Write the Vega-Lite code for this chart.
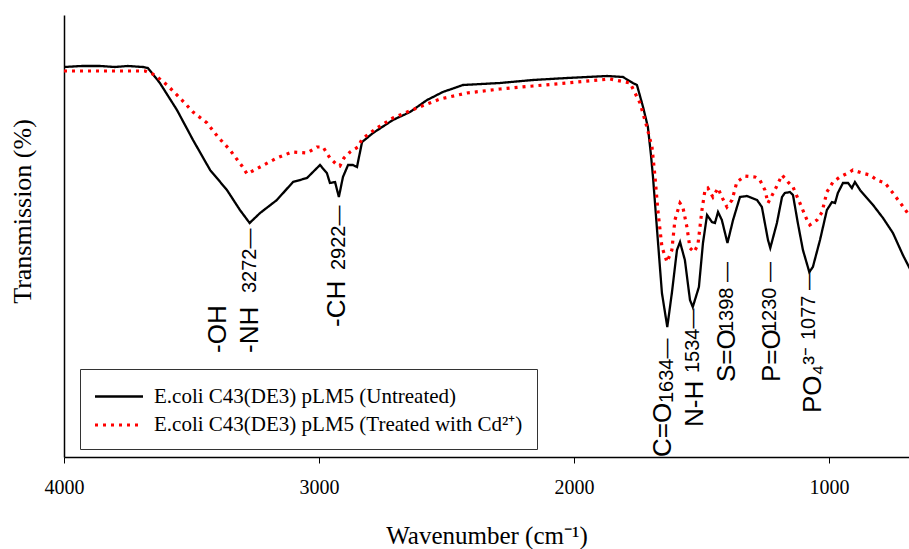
{
  "$schema": "https://vega.github.io/schema/vega-lite/v6.json",
  "width": 845,
  "height": 442,
  "autosize": {"type": "none"},
  "padding": {"left": 64, "top": 15, "right": 0, "bottom": 92},
  "background": "white",
  "config": {
    "view": {"stroke": null},
    "axis": {"grid": false, "domainColor": "black", "domainWidth": 1.5, "tickColor": "black", "labelColor": "black", "titleColor": "black", "titleFontWeight": "normal", "labelFont": "Liberation Serif", "titleFont": "Liberation Serif"}
  },
  "datasets": {
    "spectra": [
      {"s": "Untreated", "w": 4000, "v": 390}, {"s": "Untreated", "w": 3930, "v": 391}, {"s": "Untreated", "w": 3859, "v": 391}, {"s": "Untreated", "w": 3800, "v": 390}, {"s": "Untreated", "w": 3750, "v": 391}, {"s": "Untreated", "w": 3690, "v": 390}, {"s": "Untreated", "w": 3671, "v": 389}, {"s": "Untreated", "w": 3624, "v": 374}, {"s": "Untreated", "w": 3557, "v": 347}, {"s": "Untreated", "w": 3494, "v": 317}, {"s": "Untreated", "w": 3427, "v": 287}, {"s": "Untreated", "w": 3361, "v": 267}, {"s": "Untreated", "w": 3310, "v": 247}, {"s": "Untreated", "w": 3272, "v": 234}, {"s": "Untreated", "w": 3231, "v": 244}, {"s": "Untreated", "w": 3165, "v": 257}, {"s": "Untreated", "w": 3102, "v": 275}, {"s": "Untreated", "w": 3047, "v": 279}, {"s": "Untreated", "w": 2996, "v": 292}, {"s": "Untreated", "w": 2969, "v": 284}, {"s": "Untreated", "w": 2957, "v": 274}, {"s": "Untreated", "w": 2937, "v": 275}, {"s": "Untreated", "w": 2922, "v": 260}, {"s": "Untreated", "w": 2906, "v": 280}, {"s": "Untreated", "w": 2886, "v": 292}, {"s": "Untreated", "w": 2867, "v": 292}, {"s": "Untreated", "w": 2851, "v": 290}, {"s": "Untreated", "w": 2831, "v": 315}, {"s": "Untreated", "w": 2788, "v": 324}, {"s": "Untreated", "w": 2710, "v": 337}, {"s": "Untreated", "w": 2643, "v": 345}, {"s": "Untreated", "w": 2576, "v": 357}, {"s": "Untreated", "w": 2514, "v": 365}, {"s": "Untreated", "w": 2435, "v": 372}, {"s": "Untreated", "w": 2290, "v": 374}, {"s": "Untreated", "w": 2161, "v": 377}, {"s": "Untreated", "w": 2027, "v": 379}, {"s": "Untreated", "w": 1871, "v": 381}, {"s": "Untreated", "w": 1808, "v": 380}, {"s": "Untreated", "w": 1769, "v": 374}, {"s": "Untreated", "w": 1753, "v": 372}, {"s": "Untreated", "w": 1729, "v": 350}, {"s": "Untreated", "w": 1710, "v": 330}, {"s": "Untreated", "w": 1698, "v": 302}, {"s": "Untreated", "w": 1690, "v": 280}, {"s": "Untreated", "w": 1675, "v": 230}, {"s": "Untreated", "w": 1655, "v": 164}, {"s": "Untreated", "w": 1634, "v": 130}, {"s": "Untreated", "w": 1616, "v": 164}, {"s": "Untreated", "w": 1596, "v": 207}, {"s": "Untreated", "w": 1584, "v": 215}, {"s": "Untreated", "w": 1565, "v": 197}, {"s": "Untreated", "w": 1545, "v": 157}, {"s": "Untreated", "w": 1534, "v": 150}, {"s": "Untreated", "w": 1510, "v": 170}, {"s": "Untreated", "w": 1494, "v": 214}, {"s": "Untreated", "w": 1478, "v": 242}, {"s": "Untreated", "w": 1459, "v": 235}, {"s": "Untreated", "w": 1447, "v": 234}, {"s": "Untreated", "w": 1435, "v": 245}, {"s": "Untreated", "w": 1420, "v": 237}, {"s": "Untreated", "w": 1398, "v": 214}, {"s": "Untreated", "w": 1376, "v": 237}, {"s": "Untreated", "w": 1349, "v": 260}, {"s": "Untreated", "w": 1322, "v": 261}, {"s": "Untreated", "w": 1282, "v": 257}, {"s": "Untreated", "w": 1263, "v": 250}, {"s": "Untreated", "w": 1239, "v": 217}, {"s": "Untreated", "w": 1230, "v": 209}, {"s": "Untreated", "w": 1204, "v": 234}, {"s": "Untreated", "w": 1184, "v": 260}, {"s": "Untreated", "w": 1173, "v": 264}, {"s": "Untreated", "w": 1153, "v": 265}, {"s": "Untreated", "w": 1141, "v": 262}, {"s": "Untreated", "w": 1122, "v": 234}, {"s": "Untreated", "w": 1102, "v": 207}, {"s": "Untreated", "w": 1077, "v": 185}, {"s": "Untreated", "w": 1063, "v": 190}, {"s": "Untreated", "w": 1035, "v": 217}, {"s": "Untreated", "w": 1008, "v": 247}, {"s": "Untreated", "w": 988, "v": 255}, {"s": "Untreated", "w": 976, "v": 254}, {"s": "Untreated", "w": 965, "v": 264}, {"s": "Untreated", "w": 945, "v": 274}, {"s": "Untreated", "w": 925, "v": 274}, {"s": "Untreated", "w": 910, "v": 269}, {"s": "Untreated", "w": 898, "v": 275}, {"s": "Untreated", "w": 878, "v": 267}, {"s": "Untreated", "w": 851, "v": 259}, {"s": "Untreated", "w": 827, "v": 252}, {"s": "Untreated", "w": 788, "v": 239}, {"s": "Untreated", "w": 749, "v": 224}, {"s": "Untreated", "w": 710, "v": 202}, {"s": "Untreated", "w": 686, "v": 190}, {"s": "Untreated", "w": 670, "v": 182},
      {"s": "Treated", "w": 4000, "v": 386}, {"s": "Treated", "w": 3850, "v": 386}, {"s": "Treated", "w": 3682, "v": 386}, {"s": "Treated", "w": 3643, "v": 382}, {"s": "Treated", "w": 3596, "v": 372}, {"s": "Treated", "w": 3545, "v": 359}, {"s": "Treated", "w": 3494, "v": 345}, {"s": "Treated", "w": 3439, "v": 334}, {"s": "Treated", "w": 3396, "v": 320}, {"s": "Treated", "w": 3349, "v": 307}, {"s": "Treated", "w": 3302, "v": 291}, {"s": "Treated", "w": 3282, "v": 283}, {"s": "Treated", "w": 3231, "v": 290}, {"s": "Treated", "w": 3165, "v": 299}, {"s": "Treated", "w": 3106, "v": 305}, {"s": "Treated", "w": 3047, "v": 304}, {"s": "Treated", "w": 3008, "v": 310}, {"s": "Treated", "w": 2984, "v": 310}, {"s": "Treated", "w": 2957, "v": 299}, {"s": "Treated", "w": 2929, "v": 292}, {"s": "Treated", "w": 2918, "v": 291}, {"s": "Treated", "w": 2902, "v": 299}, {"s": "Treated", "w": 2878, "v": 305}, {"s": "Treated", "w": 2847, "v": 310}, {"s": "Treated", "w": 2831, "v": 318}, {"s": "Treated", "w": 2773, "v": 329}, {"s": "Treated", "w": 2710, "v": 339}, {"s": "Treated", "w": 2616, "v": 349}, {"s": "Treated", "w": 2525, "v": 358}, {"s": "Treated", "w": 2420, "v": 364}, {"s": "Treated", "w": 2290, "v": 368}, {"s": "Treated", "w": 2161, "v": 371}, {"s": "Treated", "w": 2027, "v": 374}, {"s": "Treated", "w": 1859, "v": 378}, {"s": "Treated", "w": 1780, "v": 374}, {"s": "Treated", "w": 1741, "v": 354}, {"s": "Treated", "w": 1714, "v": 330}, {"s": "Treated", "w": 1694, "v": 310}, {"s": "Treated", "w": 1682, "v": 280}, {"s": "Treated", "w": 1671, "v": 247}, {"s": "Treated", "w": 1655, "v": 210}, {"s": "Treated", "w": 1635, "v": 195}, {"s": "Treated", "w": 1616, "v": 207}, {"s": "Treated", "w": 1604, "v": 237}, {"s": "Treated", "w": 1584, "v": 254}, {"s": "Treated", "w": 1573, "v": 250}, {"s": "Treated", "w": 1557, "v": 230}, {"s": "Treated", "w": 1545, "v": 209}, {"s": "Treated", "w": 1529, "v": 205}, {"s": "Treated", "w": 1514, "v": 212}, {"s": "Treated", "w": 1498, "v": 247}, {"s": "Treated", "w": 1486, "v": 267}, {"s": "Treated", "w": 1475, "v": 269}, {"s": "Treated", "w": 1455, "v": 260}, {"s": "Treated", "w": 1435, "v": 269}, {"s": "Treated", "w": 1420, "v": 260}, {"s": "Treated", "w": 1400, "v": 250}, {"s": "Treated", "w": 1380, "v": 257}, {"s": "Treated", "w": 1361, "v": 275}, {"s": "Treated", "w": 1329, "v": 281}, {"s": "Treated", "w": 1290, "v": 280}, {"s": "Treated", "w": 1271, "v": 277}, {"s": "Treated", "w": 1251, "v": 267}, {"s": "Treated", "w": 1239, "v": 254}, {"s": "Treated", "w": 1212, "v": 267}, {"s": "Treated", "w": 1184, "v": 282}, {"s": "Treated", "w": 1161, "v": 275}, {"s": "Treated", "w": 1141, "v": 270}, {"s": "Treated", "w": 1114, "v": 254}, {"s": "Treated", "w": 1086, "v": 237}, {"s": "Treated", "w": 1075, "v": 232}, {"s": "Treated", "w": 1047, "v": 237}, {"s": "Treated", "w": 1027, "v": 245}, {"s": "Treated", "w": 1008, "v": 265}, {"s": "Treated", "w": 984, "v": 275}, {"s": "Treated", "w": 957, "v": 280}, {"s": "Treated", "w": 925, "v": 284}, {"s": "Treated", "w": 906, "v": 287}, {"s": "Treated", "w": 871, "v": 284}, {"s": "Treated", "w": 839, "v": 282}, {"s": "Treated", "w": 812, "v": 277}, {"s": "Treated", "w": 780, "v": 274}, {"s": "Treated", "w": 749, "v": 264}, {"s": "Treated", "w": 714, "v": 252}, {"s": "Treated", "w": 686, "v": 242}, {"s": "Treated", "w": 670, "v": 236}
    ],
    "groups": [
      {"w": 3396, "v": 104, "label": "-OH"},
      {"w": 3271, "v": 104, "label": "-NH"},
      {"w": 2929, "v": 130, "label": "-CH"},
      {"w": 1651, "v": 0, "label": "C=O"},
      {"w": 1525, "v": 30, "label": "N-H"},
      {"w": 1400, "v": 75, "label": "S=O"},
      {"w": 1224, "v": 75, "label": "P=O"},
      {"w": 1063, "v": 44, "label": "PO₄³⁻"}
    ],
    "peaks": [
      {"w": 3272, "v": 164, "label": "3272—"},
      {"w": 2922, "v": 187, "label": "2922—"},
      {"w": 1634, "v": 54, "label": "1634—"},
      {"w": 1534, "v": 84, "label": "1534—"},
      {"w": 1398, "v": 125, "label": "1398 —"},
      {"w": 1230, "v": 125, "label": "1230 —"},
      {"w": 1077, "v": 117, "label": "1077 —"}
    ]
  },
  "layer": [
    {
      "data": {"name": "spectra"},
      "mark": {"type": "line", "clip": true, "strokeCap": "butt"},
      "encoding": {
        "x": {"field": "w", "type": "quantitative", "scale": {"domain": [686, 4000], "reverse": true, "nice": false, "zero": false},
          "axis": {"values": [4000, 3000, 2000, 1000], "format": "d", "tickSize": 6, "labelFontSize": 20, "labelPadding": 14, "labelFlush": false, "title": "Wavenumber (cm⁻¹)", "titleFontSize": 25, "titlePadding": 26}},
        "y": {"field": "v", "type": "quantitative", "scale": {"domain": [0, 442], "nice": false, "zero": false},
          "axis": {"ticks": false, "labels": false, "title": "Transmission (%)", "titleFontSize": 26, "titleX": -42, "titleY": 196, "titleAngle": 270, "titleAlign": "center", "titleBaseline": "middle"}},
        "color": {"field": "s", "type": "nominal", "title": null,
          "scale": {"domain": ["Untreated", "Treated"], "range": ["#000000", "#ff0000"]},
          "legend": {"orient": "none", "legendX": 16, "legendY": 354, "strokeColor": "#333333", "padding": 14, "labelFont": "Liberation Serif", "labelFontSize": 21, "labelColor": "black", "labelLimit": 600, "symbolType": "M-2,0H2", "symbolSize": 576, "symbolStrokeWidth": 2.5, "symbolOffset": 11, "rowPadding": 4, "labelOffset": 21,
            "labelExpr": "datum.label == 'Untreated' ? 'E.coli C43(DE3) pLM5 (Untreated)' : 'E.coli C43(DE3) pLM5 (Treated with Cd²⁺)'"}},
        "strokeDash": {"field": "s", "type": "nominal", "title": null,
          "scale": {"domain": ["Untreated", "Treated"], "range": [[1, 0], [3, 5]]}},
        "strokeWidth": {"field": "s", "type": "nominal", "legend": null,
          "scale": {"domain": ["Untreated", "Treated"], "range": [2.3, 3.2]}}
      }
    },
    {
      "data": {"name": "groups"},
      "mark": {"type": "text", "angle": 270, "align": "left", "baseline": "middle", "font": "Liberation Sans", "fontSize": 26, "color": "black"},
      "encoding": {
        "x": {"field": "w", "type": "quantitative"},
        "y": {"field": "v", "type": "quantitative"},
        "text": {"field": "label"}
      }
    },
    {
      "data": {"name": "peaks"},
      "mark": {"type": "text", "angle": 270, "align": "left", "baseline": "middle", "font": "Liberation Sans", "fontSize": 20, "color": "black"},
      "encoding": {
        "x": {"field": "w", "type": "quantitative"},
        "y": {"field": "v", "type": "quantitative"},
        "text": {"field": "label"}
      }
    }
  ]
}
